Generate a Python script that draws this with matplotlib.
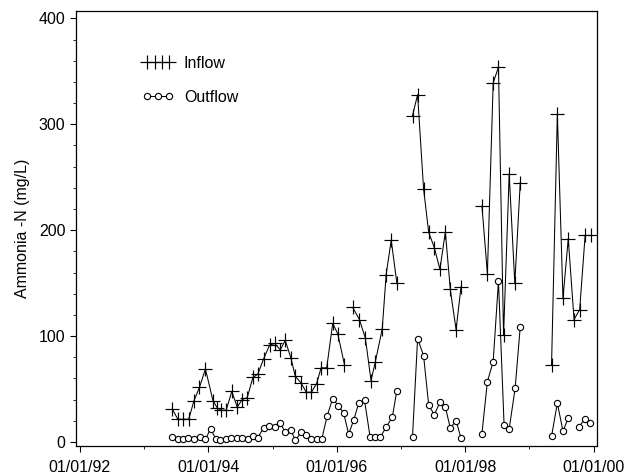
import numpy as np
import pandas as pd
import matplotlib
matplotlib.use('Agg')
import matplotlib.pyplot as plt
import matplotlib.dates as mdates
from matplotlib.legend_handler import HandlerLine2D

plt.rcParams['font.family'] = ['Liberation Sans', 'DejaVu Sans']

# inflow samples, NaN rows mark gaps in the record
inflow_dates = ['1993-06-10', '1993-07-11', '1993-08-09', '1993-09-11', '1993-10-11', '1993-11-11',
                '1993-12-15', '1994-01-27', '1994-02-21', '1994-03-14', '1994-04-12', '1994-05-14',
                '1994-06-14', '1994-07-12', '1994-08-10', '1994-09-11', '1994-10-09', '1994-11-11',
                '1994-12-15', '1995-01-13', '1995-02-14', '1995-03-14', '1995-04-16', '1995-05-10',
                '1995-06-11', '1995-07-12', '1995-08-10', '1995-09-08', '1995-10-04', '1995-11-05',
                '1995-12-09', '1996-01-07', '1996-02-14', '1996-03-05',
                '1996-04-01', '1996-05-09', '1996-06-12', '1996-07-14', '1996-08-08', '1996-09-16',
                '1996-10-08', '1996-11-06', '1996-12-08', '1997-01-20',
                '1997-03-07', '1997-04-05', '1997-05-09', '1997-06-07', '1997-07-09', '1997-08-10',
                '1997-09-10', '1997-10-08', '1997-11-10', '1997-12-08', '1998-02-01',
                '1998-04-06', '1998-05-07', '1998-06-09', '1998-07-09', '1998-08-07', '1998-09-08',
                '1998-10-10', '1998-11-10', '1999-02-01',
                '1999-05-07', '1999-06-09', '1999-07-11', '1999-08-10', '1999-09-12', '1999-10-14',
                '1999-11-14', '1999-12-16']
inflow = [31, 21.5, 21.5, 21.5, 39, 51.5,
          69, 39, 32, 30, 30, 47.7,
          33, 40, 42, 61, 64, 78.5,
          91.5, 93, 87, 96, 79, 62,
          56, 47, 47, 55, 70, 70,
          112, 102, 73, np.nan,
          127, 115.6, 98, 58, 76, 107,
          158, 190.5, 150, np.nan,
          308, 328, 239, 198, 183.6, 163,
          198.4, 144, 106, 146.6, np.nan,
          223, 159, 339, 354, 101, 253,
          150, 245, np.nan,
          73, 310, 135.5, 192, 115.6, 125,
          195, 195]

outflow_dates = ['1993-06-10', '1993-07-11', '1993-08-09', '1993-09-07', '1993-10-09', '1993-11-13',
                 '1993-12-15', '1994-01-13', '1994-02-12', '1994-03-10', '1994-04-12', '1994-05-10',
                 '1994-06-12', '1994-07-12', '1994-08-13', '1994-09-11', '1994-10-09', '1994-11-11',
                 '1994-12-11', '1995-01-13', '1995-02-14', '1995-03-14', '1995-04-16', '1995-05-10',
                 '1995-06-12', '1995-07-10', '1995-08-08', '1995-09-10', '1995-10-08', '1995-11-08',
                 '1995-12-09', '1996-01-11', '1996-02-09', '1996-03-09', '1996-04-07', '1996-05-05',
                 '1996-06-07', '1996-07-09', '1996-08-07', '1996-09-05', '1996-10-08', '1996-11-12',
                 '1996-12-08', '1997-01-20',
                 '1997-03-07', '1997-04-05', '1997-05-09', '1997-06-07', '1997-07-09', '1997-08-10',
                 '1997-09-10', '1997-10-08', '1997-11-10', '1997-12-08', '1998-02-01',
                 '1998-04-06', '1998-05-07', '1998-06-09', '1998-07-09', '1998-08-10', '1998-09-08',
                 '1998-10-12', '1998-11-10', '1999-02-01',
                 '1999-05-07', '1999-06-09', '1999-07-11', '1999-08-10', '1999-09-10',
                 '1999-10-10', '1999-11-12', '1999-12-12']
outflow = [5, 2.5, 3, 3.5, 3.2, 5,
           2.5, 12.3, 3, 2.3, 3, 3.5,
           3.5, 3.5, 2.5, 5.7, 4, 13.5,
           15, 14.5, 18, 9, 11, 1.5,
           9, 6.6, 2.5, 2.8, 2.8, 25,
           41, 34, 27.5, 7.5, 21, 36.7,
           39.5, 4.5, 4.5, 4.5, 14, 23.4,
           48.6, np.nan,
           5, 97.6, 81.5, 35, 25.6, 37.6,
           33, 13, 20.2, 3.5, np.nan,
           8, 57, 76, 152, 16, 12.3,
           51, 109, np.nan,
           5.5, 36.7, 10.2, 22.5, np.nan,
           14.5, 21.5, 18.3]

x_in = pd.to_datetime(inflow_dates)
x_out = pd.to_datetime(outflow_dates)

fig = plt.figure(figsize=(6.27, 4.75), dpi=100)
ax = fig.add_axes([0.121, 0.061, 0.831, 0.916])

l1, = ax.plot(x_in, inflow, color='black', lw=0.75, marker='+', ms=9.5, mew=0.85, label='Inflow')
l2, = ax.plot(x_out, outflow, color='black', lw=0.75, marker='o', ms=4.5, mew=0.8,
              mfc='white', label='Outflow')

ax.set_xlim(pd.Timestamp('1991-12-09'), pd.Timestamp('2000-01-20'))
ax.set_ylim(-3.8, 407)

ax.xaxis.set_major_locator(mdates.YearLocator(2))
ax.xaxis.set_minor_locator(mdates.YearLocator(1))
ax.xaxis.set_major_formatter(mdates.DateFormatter('%m/%d/%y'))
ax.set_yticks([0, 100, 200, 300, 400])
ax.set_yticks(np.arange(0, 401, 20), minor=True)

ax.tick_params(axis='both', which='major', labelsize=11.5, direction='out', length=4, width=0.8)
ax.tick_params(axis='both', which='minor', direction='out', length=2, width=0.6)
ax.tick_params(axis='x', which='major', pad=6)
for s in ax.spines.values():
    s.set_linewidth(0.9)

ax.set_ylabel('Ammonia -N (mg/L)', fontsize=11.5, labelpad=6)

ax.legend(handles=[l1, l2], loc='upper left', bbox_to_anchor=(0.1, 0.93), frameon=False,
          fontsize=11.5, handlelength=2.0, handletextpad=0.6, labelspacing=1.2,
          handler_map={l1: HandlerLine2D(numpoints=4), l2: HandlerLine2D(numpoints=3)})

fig.savefig('out.png', dpi=100)
